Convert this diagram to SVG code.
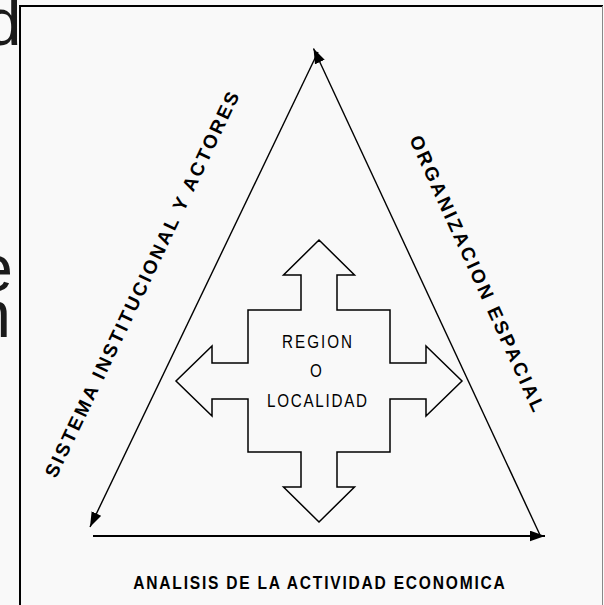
<svg xmlns="http://www.w3.org/2000/svg" width="604" height="605" viewBox="0 0 604 605">
  <defs>
    <style>
      .side { fill: none; stroke: #000; stroke-width: 1.4; }
      .base { fill: none; stroke: #000; stroke-width: 2; }
      .shape { fill: none; stroke: #000; stroke-width: 1.5; stroke-linejoin: miter; }
      .lbl { font-family: "Liberation Sans", Arial, sans-serif; font-weight: bold; font-size: 19px; fill: #000; }
      .inner { font-family: "Liberation Sans", Arial, sans-serif; font-size: 19px; fill: #000; }
      .slide { font-family: "Liberation Sans", Arial, sans-serif; font-size: 66px; fill: #1a1a1a; }
    </style>
    <marker id="ah" viewBox="0 0 14 10" markerUnits="userSpaceOnUse" markerWidth="15" markerHeight="11" refX="14" refY="5" orient="auto">
      <path d="M0,0 L14,5 L0,10 Z" fill="#000"/>
    </marker>
  </defs>

  <rect x="0" y="0" width="604" height="605" fill="#f9f9f9"/>

  <!-- clipped slide text at left edge -->
  <text class="slide" x="21.5" y="45" text-anchor="end">d</text>
  <text class="slide" x="13" y="291" text-anchor="end">e</text>
  <text class="slide" x="11" y="337" text-anchor="end">n</text>

  <!-- frame -->
  <g id="frame">
    <line x1="20" y1="6" x2="603" y2="6" stroke="#000" stroke-width="2"/>
    <line x1="20" y1="5" x2="20" y2="605" stroke="#000" stroke-width="2"/>
    <line x1="602.5" y1="6" x2="602.5" y2="605" stroke="#888" stroke-width="1"/>
  </g>

  <!-- connectors: triangle sides -->
  <g id="connectors">
    <line class="side" x1="318" y1="52" x2="90" y2="527" marker-end="url(#ah)"/>
    <line class="side" x1="540" y1="535" x2="313.5" y2="48.5" marker-end="url(#ah)"/>
    <line class="base" x1="93" y1="536" x2="545" y2="536" marker-end="url(#ah)"/>
  </g>

  <!-- side labels -->
  <g id="label-sistema">
    <text class="lbl" transform="translate(56,479) rotate(-64.4)" textLength="425" lengthAdjust="spacing">SISTEMA INSTITUCIONAL Y ACTORES</text>
  </g>
  <g id="label-organizacion">
    <text class="lbl" transform="translate(409,139) rotate(65.6)" textLength="301" lengthAdjust="spacing">ORGANIZACION ESPACIAL</text>
  </g>
  <g id="label-analisis">
    <text class="lbl" transform="translate(133.3,588.5) scale(0.82,1)" textLength="453" lengthAdjust="spacing">ANALISIS DE LA ACTIVIDAD ECONOMICA</text>
  </g>

  <!-- central four-way arrow -->
  <g id="region">
    <path class="shape" d="M319,240 L354.5,275 L337,275 L337,310 L390,310 L390,363 L426,363 L426,346 L462,381 L426,416 L426,399 L390,399 L390,452 L337,452 L337,487 L354.5,487 L319,522 L283.5,487 L301,487 L301,452 L248,452 L248,399 L212,399 L212,416 L176,381 L212,346 L212,363 L248,363 L248,310 L301,310 L301,275 L283.5,275 Z"/>
    <text class="inner" transform="translate(317,348) scale(0.8,1)" text-anchor="middle" textLength="87.5" lengthAdjust="spacing">REGION</text>
    <text class="inner" transform="translate(316,377) scale(0.8,1)" text-anchor="middle">O</text>
    <text class="inner" transform="translate(317,407) scale(0.8,1)" text-anchor="middle" textLength="125" lengthAdjust="spacing">LOCALIDAD</text>
  </g>
</svg>
